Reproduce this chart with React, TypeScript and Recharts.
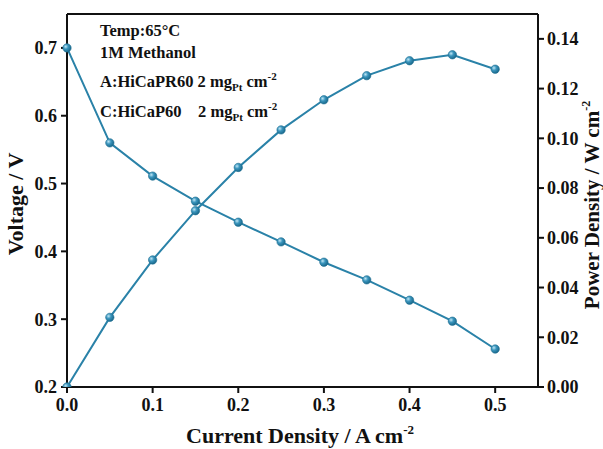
import { LineChart, Line, XAxis, YAxis, ReferenceLine } from 'recharts'

// current density (A cm-2), cell voltage (V), power density (W cm-2)
const currentDensity = [0, 0.05, 0.1, 0.15, 0.2, 0.25, 0.3, 0.35, 0.4, 0.45, 0.5]
const voltage = [0.7, 0.56, 0.511, 0.474, 0.443, 0.414, 0.384, 0.358, 0.328, 0.297, 0.256]
const powerDensity = [0.0, 0.028, 0.0511, 0.0709, 0.0883, 0.1034, 0.1155, 0.1252, 0.1312, 0.1336, 0.1278]

const xTicks = [0, 0.1, 0.2, 0.3, 0.4, 0.5]
const voltTicks = [0.2, 0.3, 0.4, 0.5, 0.6, 0.7]
const powerTicks = [0, 0.02, 0.04, 0.06, 0.08, 0.1, 0.12, 0.14]

const COLOR = '#2a82a8'
const FONT = '"Liberation Serif", "Times New Roman", serif'

const data = currentDensity.map((c, i) => ({
  current: c,
  voltage: voltage[i],
  power: powerDensity[i],
}))

const tickStyle = { fill: '#111', fontSize: 18, fontWeight: 700, fontFamily: FONT }

// little shaded balls like the original markers
const Ball = (props: any) => {
  const { cx, cy, index } = props
  if (cx == null || cy == null) return null
  return <circle key={index} cx={cx} cy={cy} r={4.2} fill="url(#ballGrad)" stroke="#1f6f92" strokeWidth={0.6} />
}

const noteStyle: React.CSSProperties = {
  position: 'absolute',
  left: 100,
  fontFamily: FONT,
  fontWeight: 700,
  fontSize: 16.5,
  color: '#111',
  whiteSpace: 'pre',
  lineHeight: 1,
}
const sub: React.CSSProperties = { fontSize: 11, verticalAlign: -4 }
const sup: React.CSSProperties = { fontSize: 11, verticalAlign: 7 }

const titleStyle: React.CSSProperties = {
  position: 'absolute',
  fontFamily: FONT,
  fontWeight: 700,
  fontSize: 22,
  whiteSpace: 'nowrap',
  color: '#111',
  lineHeight: 1,
}

export default function App() {
  return (
    <div style={{ position: 'absolute', left: 0, top: 0, width: 603, height: 449, background: '#fff', overflow: 'hidden' }}>
      <svg width={0} height={0} style={{ position: 'absolute' }}>
        <defs>
          <radialGradient id="ballGrad" cx="35%" cy="35%" r="65%">
            <stop offset="0%" stopColor="#bfe6f5" />
            <stop offset="45%" stopColor="#3a95bd" />
            <stop offset="100%" stopColor="#1b6a8d" />
          </radialGradient>
        </defs>
      </svg>
      <LineChart width={603} height={449} data={data} margin={{ top: 14, right: 0, bottom: 0, left: 0 }}>
        <XAxis
          dataKey="current"
          type="number"
          domain={[0, 0.55]}
          ticks={xTicks}
          tickFormatter={(v: number) => v.toFixed(1)}
          tick={tickStyle}
          tickSize={6}
          tickMargin={5}
          height={62}
          stroke="#111"
          strokeWidth={2}
          tickLine={{ stroke: '#111', strokeWidth: 2 }}
        />
        <YAxis
          yAxisId="left"
          domain={[0.2, 0.75]}
          ticks={voltTicks}
          tickFormatter={(v: number) => v.toFixed(1)}
          tick={tickStyle}
          tickSize={6}
          tickMargin={4}
          width={67}
          stroke="#111"
          strokeWidth={2}
          tickLine={{ stroke: '#111', strokeWidth: 2 }}
          allowDataOverflow
        />
        <YAxis
          yAxisId="right"
          orientation="right"
          domain={[0, 0.15]}
          ticks={powerTicks}
          tickFormatter={(v: number) => v.toFixed(2)}
          tick={tickStyle}
          tickSize={6}
          tickMargin={3}
          width={65}
          stroke="#111"
          strokeWidth={2}
          tickLine={{ stroke: '#111', strokeWidth: 2 }}
          allowDataOverflow
        />
        <ReferenceLine yAxisId="left" y={0.75} stroke="#111" strokeWidth={2} ifOverflow="extendDomain" />
        <Line
          yAxisId="left"
          dataKey="voltage"
          stroke={COLOR}
          strokeWidth={2}
          dot={Ball}
          activeDot={false}
          isAnimationActive={false}
        />
        <Line
          yAxisId="right"
          dataKey="power"
          stroke={COLOR}
          strokeWidth={2}
          dot={Ball}
          activeDot={false}
          isAnimationActive={false}
        />
      </LineChart>

      <div style={{ ...noteStyle, top: 23 }}>Temp:65°C</div>
      <div style={{ ...noteStyle, top: 45 }}>1M Methanol</div>
      <div style={{ ...noteStyle, top: 71 }}>
        A:HiCaPR60 2 mg<span style={sub}>Pt</span> cm<span style={sup}>-2</span>
      </div>
      <div style={{ ...noteStyle, top: 101 }}>
        C:HiCaP60    2 mg<span style={sub}>Pt</span> cm<span style={sup}>-2</span>
      </div>

      {/* axis titles */}
      <div style={{ ...titleStyle, left: 16, top: 204, transform: 'translate(-50%, -50%) rotate(-90deg)' }}>
        Voltage / V
      </div>
      <div
        style={{
          ...titleStyle,
          fontSize: 21,
          left: 591,
          top: 205,
          transform: 'translate(-50%, -50%) rotate(-90deg)',
        }}
      >
        Power Density / W cm<span style={{ fontSize: 12, verticalAlign: 9 }}>-2</span>
      </div>
      <div style={{ ...titleStyle, left: 300, top: 435, transform: 'translate(-50%, -50%)' }}>
        Current Density / A cm<span style={{ fontSize: 13, verticalAlign: 9 }}>-2</span>
      </div>
    </div>
  )
}
